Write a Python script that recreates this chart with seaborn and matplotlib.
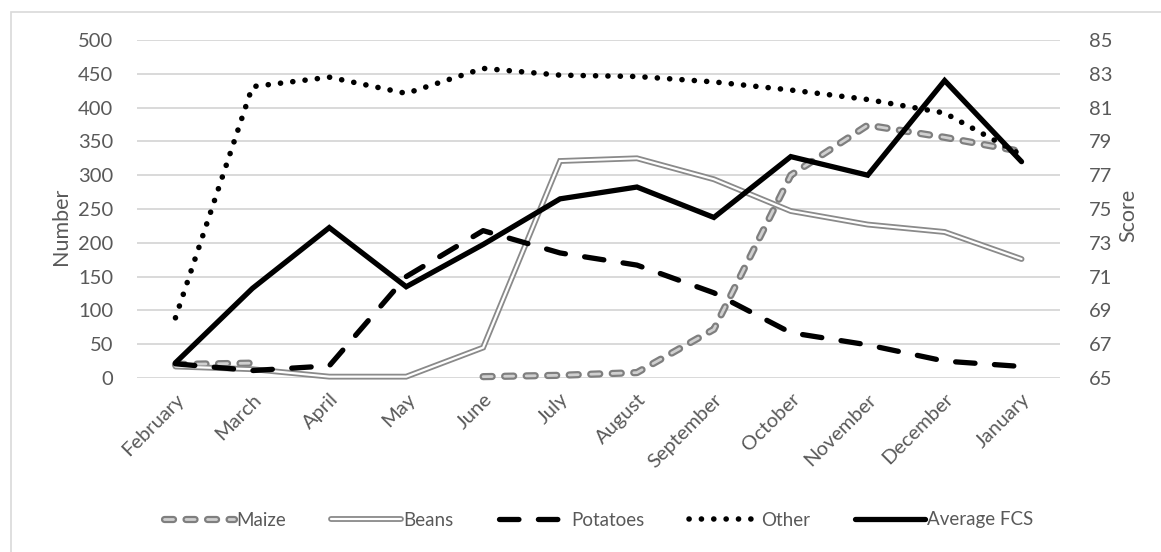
import numpy as np
import pandas as pd
import matplotlib
matplotlib.use("Agg")
import matplotlib.pyplot as plt
from matplotlib.lines import Line2D
from matplotlib.legend_handler import HandlerTuple
from matplotlib.patches import Rectangle
import seaborn as sns

# ---- data -------------------------------------------------------------
months = ["February", "March", "April", "May", "June", "July", "August",
          "September", "October", "November", "December", "January"]
maize = [20, 22, np.nan, np.nan, 2, 4, 8, 72, 300, 374, 356, 335]
beans = [17, 13, 2, 2, 45, 321, 325, 294, 247, 227, 216, 176]
potatoes = [21, 11, 18, 150, 218, 185, 167, 126, 67, 49, 25, 17]
other = [89, 431, 445, 421, 458, 448, 446, 438, 426, 412, 392, 330]
avg_fcs = [65.9, 70.3, 73.9, 70.4, 72.9, 75.6, 76.3, 74.5, 78.1, 77.0, 82.6, 77.8]

left_ticks = list(range(0, 501, 50))
right_ticks = list(range(65, 86, 2))

# ---- style ------------------------------------------------------------
sns.set_theme(style="white")
plt.rcParams["font.family"] = ["Lato", "DejaVu Sans"]
plt.rcParams["lines.scale_dashes"] = False
TXT = "#595959"
GRID = "#d9d9d9"

df = pd.DataFrame({"pos": np.arange(len(months)), "month": months,
                   "maize": maize, "beans": beans, "potatoes": potatoes,
                   "other": other, "fcs": avg_fcs})

fig = plt.figure(figsize=(11.61, 5.52), dpi=100)
ax = fig.add_axes([137 / 1161, 1 - 378 / 552, 923 / 1161, 338 / 552])
ax2 = ax.twinx()

# chart-area frame
fig.patches.append(Rectangle((11 / 1161, -0.1), 1.2, 1 - 12 / 552 + 0.1,
                             transform=fig.transFigure, fill=False,
                             edgecolor=GRID, linewidth=1.2, zorder=0))

# Maize: grey compound dashed line (drawn per contiguous segment)
maize_dash = (0, (6.5, 9.0))
seg = df["maize"].notna()
groups = (seg != seg.shift()).cumsum()
for _, part in df[seg].groupby(groups[seg]):
    sns.lineplot(data=part, x="pos", y="maize", ax=ax, color="#7f7f7f",
                 linewidth=5.2, linestyle=maize_dash, dash_capstyle="round",
                 zorder=3, clip_on=False)
    sns.lineplot(data=part, x="pos", y="maize", ax=ax, color="#d0d0d0",
                 linewidth=2.0, linestyle=maize_dash, dash_capstyle="round",
                 zorder=3.1, clip_on=False)

# Beans: grey double line
sns.lineplot(data=df, x="pos", y="beans", ax=ax, color="#8a8a8a",
             linewidth=4.2, solid_capstyle="round", solid_joinstyle="miter",
             zorder=3, clip_on=False)
sns.lineplot(data=df, x="pos", y="beans", ax=ax, color="white",
             linewidth=1.6, solid_capstyle="round", solid_joinstyle="miter",
             zorder=3.1, clip_on=False)

# Potatoes: heavy black dashes
sns.lineplot(data=df, x="pos", y="potatoes", ax=ax, color="black",
             linewidth=3.8, linestyle=(0, (14.0, 14.0)),
             dash_capstyle="round", zorder=4, clip_on=False)

# Other: round black dots
sns.lineplot(data=df, x="pos", y="other", ax=ax, color="black",
             linewidth=4.0, linestyle=(0, (0.1, 8.8)),
             dash_capstyle="round", zorder=4, clip_on=False)

# Average FCS on the secondary axis
sns.lineplot(data=df, x="pos", y="fcs", ax=ax2, color="black",
             linewidth=3.8, solid_joinstyle="miter", zorder=5, clip_on=False)

# ---- axes -------------------------------------------------------------
ax.set_xlim(-0.5, len(months) - 0.5)
ax.set_ylim(0, 500)
ax2.set_ylim(65, 85)
ax.set_yticks(left_ticks)
ax2.set_yticks(right_ticks)
ax.set_xticks(np.arange(len(months)))
ax.set_xticklabels(months, rotation=45, ha="right", rotation_mode="anchor")

for a in (ax, ax2):
    for s in a.spines.values():
        s.set_visible(False)
    a.set_xlabel("")
    a.tick_params(length=0, labelsize=14.5, labelcolor=TXT)
ax.tick_params(axis="y", pad=17)
ax2.tick_params(axis="y", pad=21)
ax.tick_params(axis="x", pad=9)

ax.yaxis.grid(True, color=GRID, linewidth=1.4)
ax.xaxis.grid(False)
ax.set_axisbelow(True)

ax.set_ylabel("Number", fontsize=15.5, color=TXT)
ax.yaxis.set_label_coords(-0.072, 0.45)
ax2.set_ylabel("Score", fontsize=15.5, color=TXT, rotation=90)
ax2.yaxis.set_label_coords(1.063, 0.48)

# ---- legend -----------------------------------------------------------
h_maize = (Line2D([], [], color="#7f7f7f", lw=5.2, ls=maize_dash,
                  dash_capstyle="round"),
           Line2D([], [], color="#d0d0d0", lw=2.0, ls=maize_dash,
                  dash_capstyle="round"))
h_beans = (Line2D([], [], color="#8a8a8a", lw=4.2, solid_capstyle="round"),
           Line2D([], [], color="white", lw=1.6, solid_capstyle="round"))
h_pot = Line2D([], [], color="black", lw=3.8, ls=(0, (14.0, 14.0)),
               dash_capstyle="round")
h_other = Line2D([], [], color="black", lw=4.0, ls=(0, (0.1, 8.8)),
                 dash_capstyle="round")
h_fcs = Line2D([], [], color="black", lw=3.8)

fig.legend([h_maize, h_beans, h_pot, h_other, h_fcs],
           ["Maize", "Beans", "Potatoes", "Other", "Average FCS"],
           handler_map={tuple: HandlerTuple(ndivide=1, pad=0)},
           loc="center", bbox_to_anchor=(599 / 1161, 1 - 520 / 552),
           ncol=5, frameon=False, fontsize=13.5, labelcolor=TXT,
           handlelength=3.7, handletextpad=0.15, columnspacing=2.4)

fig.savefig("out.png", dpi=100, facecolor="white")
